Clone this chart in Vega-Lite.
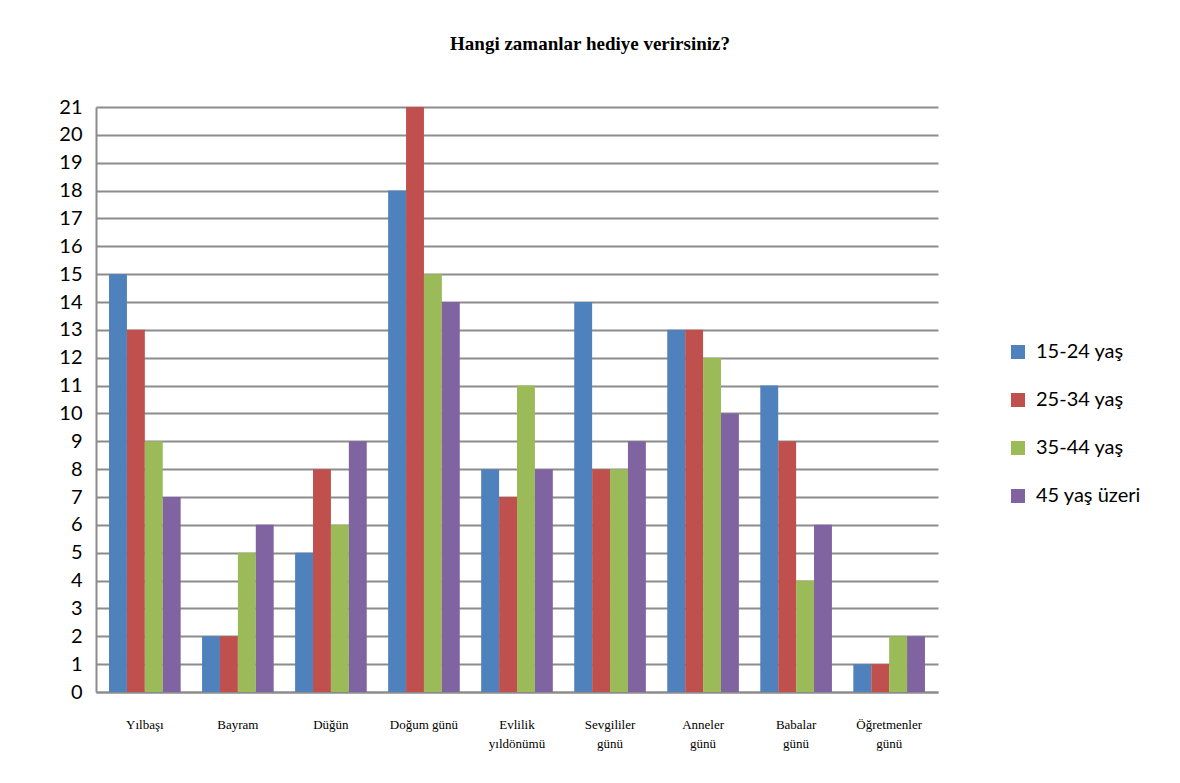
{
  "$schema": "https://vega.github.io/schema/vega-lite/v6.json",
  "width": 842,
  "height": 585,
  "autosize": {"type": "none"},
  "padding": {"left": 96, "top": 107, "right": 242, "bottom": 91},
  "background": "white",
  "title": {
    "text": "Hangi zamanlar hediye verirsiniz?",
    "font": "Liberation Serif",
    "fontSize": 19,
    "fontWeight": "bold",
    "color": "#000000",
    "anchor": "middle",
    "dx": 73,
    "offset": 43
  },
  "data": {
    "values": [
      {"zaman": "Yılbaşı", "grup": "15-24 yaş", "deger": 15},
      {"zaman": "Yılbaşı", "grup": "25-34 yaş", "deger": 13},
      {"zaman": "Yılbaşı", "grup": "35-44 yaş", "deger": 9},
      {"zaman": "Yılbaşı", "grup": "45 yaş üzeri", "deger": 7},
      {"zaman": "Bayram", "grup": "15-24 yaş", "deger": 2},
      {"zaman": "Bayram", "grup": "25-34 yaş", "deger": 2},
      {"zaman": "Bayram", "grup": "35-44 yaş", "deger": 5},
      {"zaman": "Bayram", "grup": "45 yaş üzeri", "deger": 6},
      {"zaman": "Düğün", "grup": "15-24 yaş", "deger": 5},
      {"zaman": "Düğün", "grup": "25-34 yaş", "deger": 8},
      {"zaman": "Düğün", "grup": "35-44 yaş", "deger": 6},
      {"zaman": "Düğün", "grup": "45 yaş üzeri", "deger": 9},
      {"zaman": "Doğum günü", "grup": "15-24 yaş", "deger": 18},
      {"zaman": "Doğum günü", "grup": "25-34 yaş", "deger": 21},
      {"zaman": "Doğum günü", "grup": "35-44 yaş", "deger": 15},
      {"zaman": "Doğum günü", "grup": "45 yaş üzeri", "deger": 14},
      {"zaman": "Evlilik|yıldönümü", "grup": "15-24 yaş", "deger": 8},
      {"zaman": "Evlilik|yıldönümü", "grup": "25-34 yaş", "deger": 7},
      {"zaman": "Evlilik|yıldönümü", "grup": "35-44 yaş", "deger": 11},
      {"zaman": "Evlilik|yıldönümü", "grup": "45 yaş üzeri", "deger": 8},
      {"zaman": "Sevgililer|günü", "grup": "15-24 yaş", "deger": 14},
      {"zaman": "Sevgililer|günü", "grup": "25-34 yaş", "deger": 8},
      {"zaman": "Sevgililer|günü", "grup": "35-44 yaş", "deger": 8},
      {"zaman": "Sevgililer|günü", "grup": "45 yaş üzeri", "deger": 9},
      {"zaman": "Anneler|günü", "grup": "15-24 yaş", "deger": 13},
      {"zaman": "Anneler|günü", "grup": "25-34 yaş", "deger": 13},
      {"zaman": "Anneler|günü", "grup": "35-44 yaş", "deger": 12},
      {"zaman": "Anneler|günü", "grup": "45 yaş üzeri", "deger": 10},
      {"zaman": "Babalar|günü", "grup": "15-24 yaş", "deger": 11},
      {"zaman": "Babalar|günü", "grup": "25-34 yaş", "deger": 9},
      {"zaman": "Babalar|günü", "grup": "35-44 yaş", "deger": 4},
      {"zaman": "Babalar|günü", "grup": "45 yaş üzeri", "deger": 6},
      {"zaman": "Öğretmenler|günü", "grup": "15-24 yaş", "deger": 1},
      {"zaman": "Öğretmenler|günü", "grup": "25-34 yaş", "deger": 1},
      {"zaman": "Öğretmenler|günü", "grup": "35-44 yaş", "deger": 2},
      {"zaman": "Öğretmenler|günü", "grup": "45 yaş üzeri", "deger": 2}
    ]
  },
  "mark": {"type": "bar"},
  "encoding": {
    "x": {
      "field": "zaman",
      "type": "nominal",
      "sort": null,
      "scale": {"paddingInner": 0.23, "paddingOuter": 0.14},
      "axis": {
        "title": null,
        "labelAngle": 0,
        "labelExpr": "split(datum.label, '|')",
        "labelFont": "Liberation Serif",
        "labelFontSize": 13,
        "labelColor": "#000000",
        "labelPadding": 26,
        "labelLineHeight": 19,
        "labelBaseline": "top",
        "ticks": false,
        "domain": true,
        "domainColor": "#8c8c8c",
        "domainWidth": 2,
        "grid": false
      }
    },
    "xOffset": {"field": "grup", "type": "nominal", "sort": null},
    "y": {
      "field": "deger",
      "type": "quantitative",
      "scale": {"domain": [0, 21], "nice": false},
      "axis": {
        "title": null,
        "values": [0,1,2,3,4,5,6,7,8,9,10,11,12,13,14,15,16,17,18,19,20,21],
        "labelFont": "Lato",
        "labelFontSize": 20,
        "labelColor": "#000000",
        "labelPadding": 14,
        "ticks": false,
        "domain": true,
        "domainColor": "#8c8c8c",
        "domainWidth": 2,
        "grid": true,
        "gridColor": "#8c8c8c",
        "gridWidth": 2
      }
    },
    "color": {
      "field": "grup",
      "type": "nominal",
      "sort": null,
      "scale": {
        "domain": ["15-24 yaş", "25-34 yaş", "35-44 yaş", "45 yaş üzeri"],
        "range": ["#4F81BD", "#C0504D", "#9BBB59", "#8064A2"]
      },
      "legend": {
        "title": null,
        "orient": "none",
        "legendX": 912,
        "legendY": 235,
        "symbolType": "square",
        "symbolSize": 196,
        "symbolStrokeWidth": 0,
        "labelFont": "Lato",
        "labelFontSize": 20,
        "labelColor": "#000000",
        "labelOffset": 8,
        "rowPadding": 28
      }
    }
  },
  "config": {
    "view": {"stroke": null}
  }
}
